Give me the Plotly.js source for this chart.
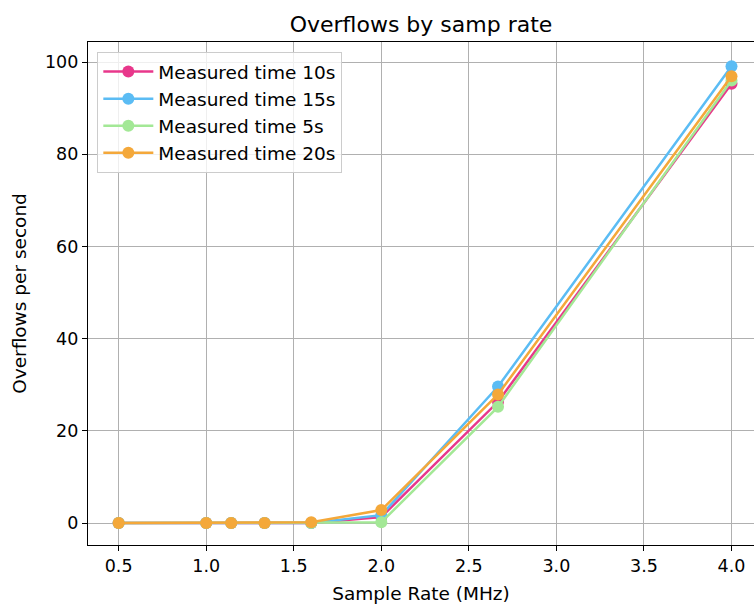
<!DOCTYPE html>
<html>
<head>
<meta charset="utf-8">
<script src="https://cdn.plot.ly/plotly-3.0.1.min.js"></script>
<style>html,body{margin:0;padding:0;background:#fff;}#chart{width:754px;height:604px;}</style>
</head>
<body>
<div id="chart"></div>
<script>
const sampleRates = [0.5, 1.0, 8/7, 4/3, 1.6, 2.0, 8/3, 4.0];
const seriesNames = ["Measured time 10s", "Measured time 15s", "Measured time 5s", "Measured time 20s"];
const time10s = [0, 0, 0, 0, 0, 1.3, 26.3, 95.3];
const time15s = [0, 0, 0, 0, 0, 1.7, 29.6, 99.1];
const time5s  = [0, 0, 0, 0, 0, 0.15, 25.2, 96.0];
const time20s = [0, 0, 0, 0, 0.15, 2.8, 27.9, 96.9];
const colors = ["#e8378b", "#5bbcf4", "#a3e896", "#f4a83a"];
const xTicks = [0.5, 1.0, 1.5, 2.0, 2.5, 3.0, 3.5, 4.0];
const yTicks = [0, 20, 40, 60, 80, 100];

const allSeries = [time10s, time15s, time5s, time20s];
const traces = allSeries.map((ys, i) => ({
  x: sampleRates, y: ys, name: seriesNames[i], type: "scatter", mode: "lines+markers",
  line: {color: colors[i], width: 2.5},
  marker: {color: colors[i], size: 12}
}));

const font = {family: "DejaVu Sans", color: "#000"};
const layout = {
  width: 754, height: 604,
  margin: {l: 88, r: 0, t: 42, b: 59},
  paper_bgcolor: "#fff", plot_bgcolor: "#fff",
  font: Object.assign({size: 18}, font),
  title: {text: "Overflows by samp rate", font: Object.assign({size: 22}, font), xref: "paper", x: 0.5, xanchor: "center", y: 0.96, yanchor: "middle"},
  showlegend: true,
  legend: {x: 0.014, y: 0.98, xanchor: "left", yanchor: "top", bgcolor: "rgba(255,255,255,0.8)",
           bordercolor: "#cccccc", borderwidth: 1, font: Object.assign({size: 18.5}, font),
           tracegroupgap: 0, itemwidth: 50},
  xaxis: {
    range: [0.325, 4.1285], tickvals: xTicks, ticktext: xTicks.map(v => v.toFixed(1)),
    showgrid: true, gridcolor: "#b0b0b0", gridwidth: 1,
    showline: true, linecolor: "#000", linewidth: 1.2, mirror: true,
    ticks: "outside", ticklen: 5, tickcolor: "#000", zeroline: false,
    tickfont: Object.assign({size: 17.5}, font),
    title: {text: "Sample Rate (MHz)", font: Object.assign({size: 18.5}, font), standoff: 12}
  },
  yaxis: {
    range: [-4.77, 104.34], tickvals: yTicks, ticktext: yTicks.map(String),
    showgrid: true, gridcolor: "#b0b0b0", gridwidth: 1,
    showline: true, linecolor: "#000", linewidth: 1.2, mirror: false,
    ticks: "outside", ticklen: 5, tickcolor: "#000", zeroline: false,
    tickfont: Object.assign({size: 17.5}, font),
    title: {text: "Overflows per second", font: Object.assign({size: 18.5}, font), standoff: 13}
  }
};
Plotly.newPlot("chart", traces, layout, {displayModeBar: false, staticPlot: true});
</script>
</body>
</html>
